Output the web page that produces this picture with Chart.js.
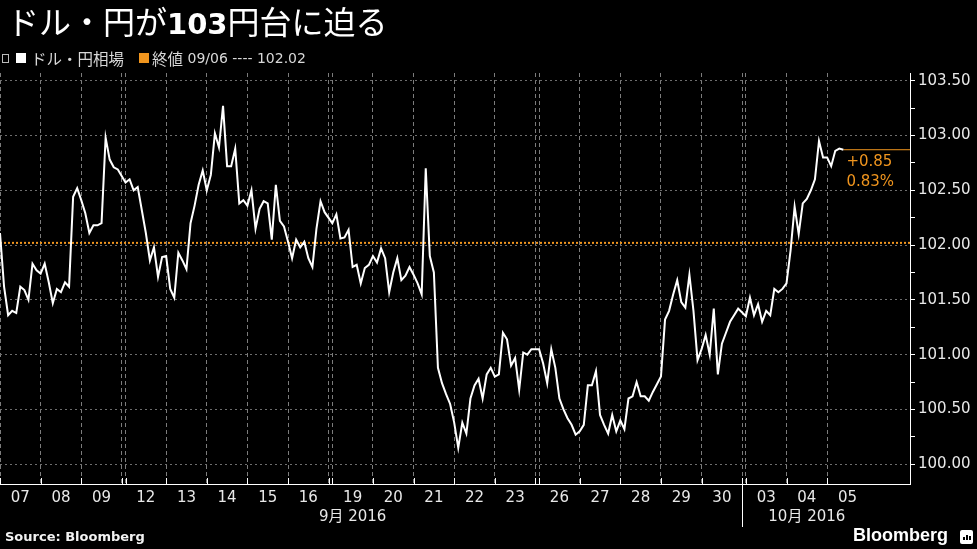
<!DOCTYPE html>
<html>
<head>
<meta charset="utf-8">
<script src="https://cdn.jsdelivr.net/npm/chart.js@4.4.1/dist/chart.umd.min.js"></script>
<style>
  body { margin: 0; background: #000; }
  #wrap { position: relative; width: 977px; height: 549px; overflow: hidden; background: #000; }
  #c { position: absolute; left: 0; top: 0; }
  .title { position: absolute; left: 7px; top: 3px; font-family: "Noto Sans CJK JP", sans-serif; font-size: 32px; line-height: 34px; color: #fff; white-space: nowrap; }
  .title b { font-family: "DejaVu Sans", sans-serif; font-size: 29px; font-weight: bold; }
  .legend { position: absolute; left: 2px; top: 48px; font-family: "DejaVu Sans", "Noto Sans CJK JP", sans-serif; font-size: 14px; line-height: 18px; color: #d8d8d8; white-space: nowrap; }
  .legend span { display: inline-block; vertical-align: middle; }
  .legend .jp { font-family: "Noto Sans CJK JP", sans-serif; font-size: 15.5px; }
  .pin { width: 5px; height: 7px; border: 1px solid #bbb; margin-right: 7px; }
  .sq { width: 10px; height: 10px; margin-right: 5px; }
  .src { position: absolute; left: 5px; top: 529px; font-family: "DejaVu Sans", sans-serif; font-weight: bold; font-size: 13px; color: #f2f2f2; }
  .logo { position: absolute; left: 853px; top: 525px; font-family: "Liberation Sans", sans-serif; font-weight: bold; font-size: 18px; color: #fff; }
  .icon { position: absolute; left: 960px; top: 530px; width: 13px; height: 14px; background: #fff; border-radius: 2px; }
  .icon i { position: absolute; bottom: 4px; width: 2px; background: #000; }
</style>
</head>
<body>
<div id="wrap">
  <canvas id="c" width="977" height="549"></canvas>
  <div class="title">ドル・円が<b>103</b>円台に迫る</div>
  <div class="legend"><span class="pin"></span><span class="sq" style="background:#fff"></span><span class="jp">ドル・円相場</span><span style="width:15px"></span><span class="sq" style="background:#f0951e;margin-right:3px"></span><span class="jp">終値</span><span>&nbsp;09/06 ---- 102.02</span></div>
  <div class="src">Source: Bloomberg</div>
  <div class="logo">Bloomberg</div>
  <div class="icon"><i style="left:3px;height:3px"></i><i style="left:6px;height:5px"></i><i style="left:9px;height:4px"></i></div>
</div>
<script>
  // ===== Data =====
  const dayLabels = ['07','08','09','12','13','14','15','16','19','20','21','22','23','26','27','28','29','30','03','04','05'];
  const weekendAfter = [2, 7, 12, 17];   // last trading day before each weekend
  const monthLabels = ['9月 2016', '10月 2016'];
  const monthLabelDay = [8, 19];
  const monthEndDay = 17;                // 30 Sep
  const yLabels = [100.00, 100.50, 101.00, 101.50, 102.00, 102.50, 103.00, 103.50];
  const prevClose = 102.02;
  const lastClose = 102.87;
  const changeText = ['+0.85', '0.83%'];

  // USD/JPY readings, 10 per trading day
  const week1 = [
    [102.11, 101.62, 101.36, 101.40, 101.38, 101.62, 101.59, 101.50, 101.83, 101.77],
    [101.74, 101.83, 101.66, 101.47, 101.60, 101.57, 101.66, 101.62, 102.44, 102.52],
    [102.41, 102.29, 102.11, 102.18, 102.18, 102.20, 102.98, 102.78, 102.71, 102.69]
  ];
  const week2 = [
    [102.57, 102.60, 102.50, 102.53, 102.32, 102.11, 101.86, 101.98, 101.71, 101.89],
    [101.90, 101.60, 101.52, 101.93, 101.86, 101.78, 102.20, 102.36, 102.55, 102.68],
    [102.50, 102.64, 103.02, 102.89, 103.27, 102.72, 102.72, 102.88, 102.38, 102.41],
    [102.36, 102.50, 102.15, 102.33, 102.40, 102.38, 102.05, 102.55, 102.22, 102.17],
    [102.03, 101.88, 102.05, 101.98, 102.03, 101.88, 101.80, 102.15, 102.40, 102.30]
  ];
  const week3 = [
    [102.20, 102.28, 102.06, 102.07, 102.14, 101.80, 101.82, 101.65, 101.79, 101.82],
    [101.90, 101.84, 101.97, 101.88, 101.57, 101.75, 101.88, 101.68, 101.72, 101.80],
    [101.73, 101.65, 101.55, 102.70, 101.90, 101.75, 100.88, 100.74, 100.64, 100.55],
    [100.38, 100.15, 100.38, 100.28, 100.60, 100.72, 100.78, 100.60, 100.82, 100.88],
    [100.80, 100.82, 101.20, 101.14, 100.90, 100.97, 100.68, 101.02, 101.00, 101.05]
  ];
  const week4 = [
    [101.05, 100.92, 100.74, 101.05, 100.88, 100.60, 100.50, 100.42, 100.36, 100.27],
    [100.30, 100.36, 100.72, 100.72, 100.85, 100.45, 100.36, 100.28, 100.45, 100.30],
    [100.40, 100.32, 100.60, 100.62, 100.75, 100.62, 100.62, 100.58, 100.66, 100.73],
    [100.80, 101.32, 101.40, 101.55, 101.68, 101.48, 101.43, 101.73, 101.40, 100.95],
    [101.05, 101.18, 101.00, 101.42, 100.82, 101.10, 101.20, 101.30, 101.36, 101.42]
  ];
  const week5 = [
    [101.35, 101.52, 101.36, 101.46, 101.30, 101.40, 101.36, 101.60, 101.57, 101.60],
    [101.65, 101.95, 102.35, 102.10, 102.38, 102.42, 102.50, 102.60, 102.95, 102.80],
    [102.80, 102.72, 102.86, 102.88, 102.87]
  ];

  const ORANGE = '#f0951e';
  const perDay = 10;
  const weekendGap = 0.09;
  const xMax = 22.4;

  // ===== Build points =====
  const days = [].concat(week1, week2, week3, week4, week5);
  const dayStart = [];
  let pos = 0;
  dayLabels.forEach((d, i) => {
    dayStart.push(pos);
    pos += 1;
    if (weekendAfter.includes(i)) pos += weekendGap;
  });

  const points = [];
  days.forEach((vals, i) => {
    vals.forEach((v, k) => points.push({ x: dayStart[i] + k / perDay, y: v }));
  });
  const lastX = points[points.length - 1].x;

  // x ticks: day edges (grid) + day centres (labels)
  const xTicks = [];
  dayStart.forEach((s, i) => {
    xTicks.push({ value: s, edge: true });
    xTicks.push({ value: s + 0.5, lbl: dayLabels[i] });
    if (weekendAfter.includes(i)) xTicks.push({ value: s + 1, edge: true });
  });

  const yTicks = [];
  yLabels.forEach((v, i) => {
    yTicks.push({ value: v, major: true });
    if (i < yLabels.length - 1) yTicks.push({ value: v + 0.25 });
  });

  // ===== Extras: inward x ticks, month labels, annotation =====
  const extras = {
    id: 'extras',
    afterDraw(chart) {
      const ctx = chart.ctx;
      const xs = chart.scales.x, ys = chart.scales.y;
      const bottom = chart.chartArea.bottom;
      ctx.save();
      ctx.strokeStyle = '#fff';
      ctx.lineWidth = 1;
      xTicks.filter(t => t.edge).forEach(t => {
        const px = Math.round(xs.getPixelForValue(t.value)) + 0.5;
        ctx.beginPath(); ctx.moveTo(px, bottom); ctx.lineTo(px, bottom - 6); ctx.stroke();
      });
      // month separator
      const sep = Math.round(xs.getPixelForValue(dayStart[monthEndDay] + 1)) + 0.5;
      ctx.beginPath(); ctx.moveTo(sep, bottom); ctx.lineTo(sep, bottom + 43); ctx.stroke();

      ctx.fillStyle = '#e8e8e8';
      ctx.font = '15px "DejaVu Sans", "Noto Sans CJK JP", sans-serif';
      ctx.textAlign = 'center';
      ctx.textBaseline = 'middle';
      monthLabels.forEach((m, j) => {
        ctx.fillText(m, xs.getPixelForValue(dayStart[monthLabelDay[j]] + 0.5), bottom + 33);
      });

      ctx.fillStyle = ORANGE;
      ctx.textAlign = 'left';
      const ax = xs.getPixelForValue(lastX) + 3;
      const ay = ys.getPixelForValue(lastClose);
      ctx.fillText(changeText[0], ax, ay + 12);
      ctx.fillText(changeText[1], ax, ay + 32);
      ctx.restore();
    }
  };

  // ===== Chart =====
  const chart = new Chart(document.getElementById('c'), {
    type: 'line',
    data: {
      datasets: [
        { data: points, borderColor: '#fff', borderWidth: 2, pointRadius: 0, tension: 0 },
        { data: [{ x: lastX, y: lastClose }, { x: xMax, y: lastClose }], borderColor: ORANGE, borderWidth: 1, pointRadius: 0 },
        { data: [{ x: 0, y: prevClose }, { x: xMax, y: prevClose }], borderColor: ORANGE, borderWidth: 2, borderDash: [2, 2], pointRadius: 0 }
      ]
    },
    options: {
      responsive: false,
      animation: false,
      devicePixelRatio: 1,
      layout: { padding: { top: 73, left: 0, right: 0, bottom: 0 }, autoPadding: false },
      plugins: { legend: { display: false }, tooltip: { enabled: false } },
      scales: {
        x: {
          type: 'linear', position: 'bottom', min: 0, max: xMax,
          afterBuildTicks: s => { s.ticks = xTicks.map(t => Object.assign({}, t)); },
          afterFit: s => { s.height = 65; s.paddingLeft = 0; s.paddingRight = 0; },
          ticks: {
            autoSkip: false, maxRotation: 0, padding: 5, color: '#e8e8e8',
            font: { family: '"DejaVu Sans", sans-serif', size: 15 },
            callback: (v, i, ticks) => ticks[i].lbl || ''
          },
          grid: { color: c => (c.tick && c.tick.edge) ? '#7c7c7c' : 'transparent', lineWidth: 1, drawTicks: false },
          border: { color: '#fff', width: 1, dash: [4, 3] }
        },
        y: {
          type: 'linear', position: 'right', min: 99.82, max: 103.57,
          afterBuildTicks: s => { s.ticks = yTicks.map(t => Object.assign({}, t)); },
          afterFit: s => { s.width = 67; s.paddingTop = 0; s.paddingBottom = 0; },
          ticks: {
            padding: 3, color: '#e8e8e8',
            font: { family: '"DejaVu Sans", sans-serif', size: 15 },
            callback: (v, i, ticks) => ticks[i].major ? v.toFixed(2) : ''
          },
          grid: { color: c => (c.tick && c.tick.major) ? '#6e6e6e' : 'transparent', tickColor: '#fff', tickLength: 5, lineWidth: 1 },
          border: { color: '#fff', width: 1, dash: [2, 3] }
        }
      }
    },
    plugins: [extras]
  });
</script>
</body>
</html>
